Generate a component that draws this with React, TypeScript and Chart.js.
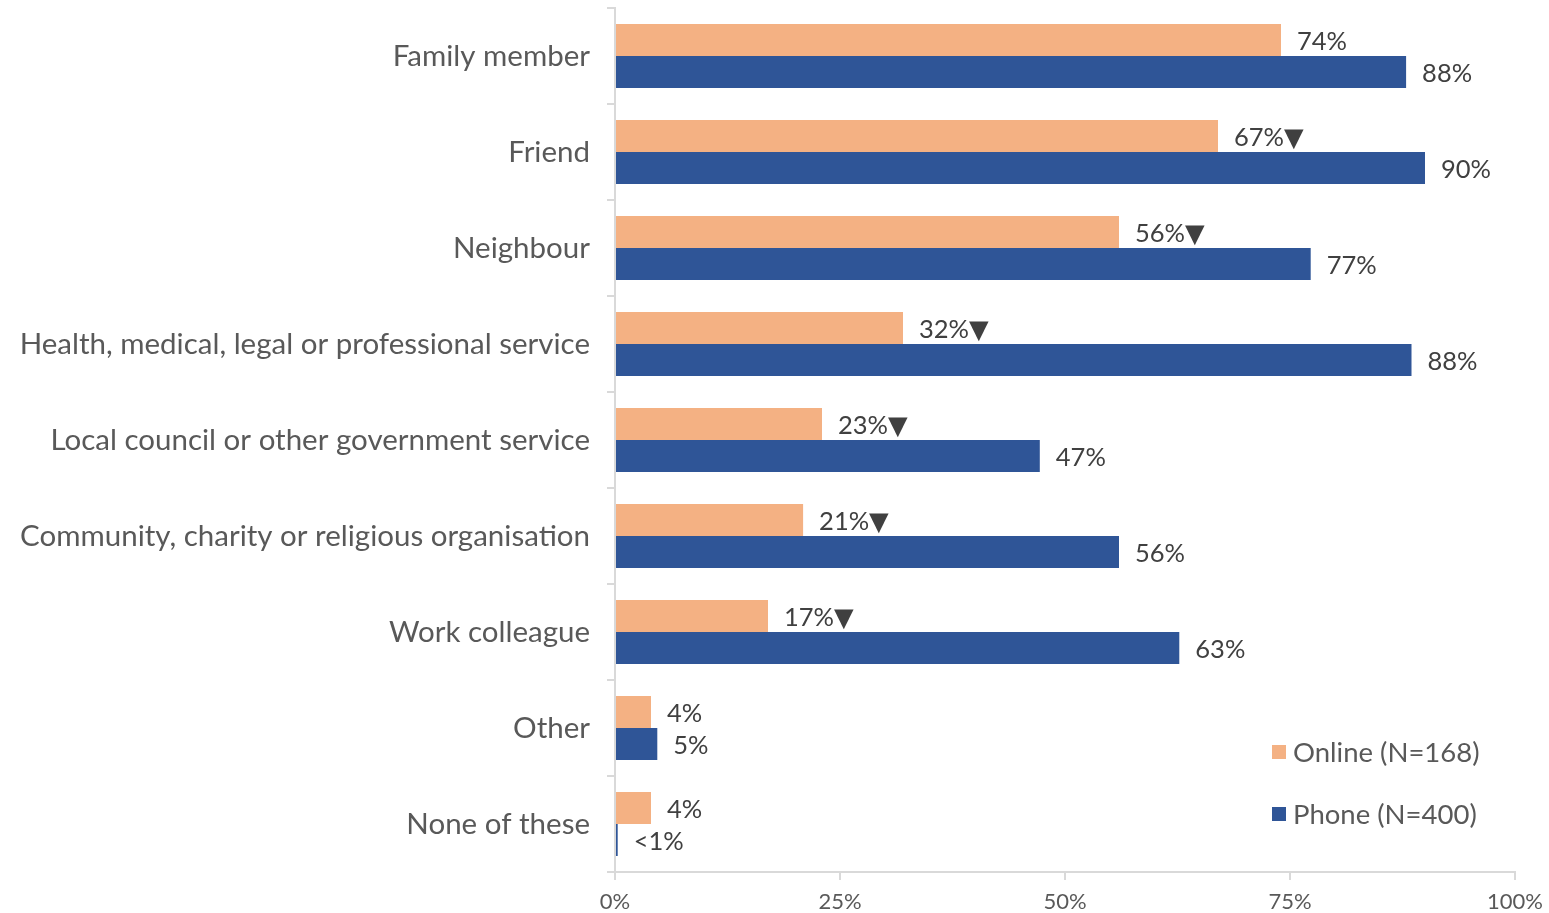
import React, { useEffect, useRef } from "react";
import { Chart, registerables } from "chart.js";

Chart.register(...registerables);

const categories = [
  "Family member",
  "Friend",
  "Neighbour",
  "Health, medical, legal or professional service",
  "Local council or other government service",
  "Community, charity or religious organisation",
  "Work colleague",
  "Other",
  "None of these",
];
const onlineValues = [74, 67, 56, 32, 23, 20.9, 17, 4, 4];
const phoneValues = [87.9, 90, 77.3, 88.5, 47.2, 56, 62.7, 4.7, 0.3];
const onlineLabels = ["74%", "67%▼", "56%▼", "32%▼", "23%▼", "21%▼", "17%▼", "4%", "4%"];
const phoneLabels = ["88%", "90%", "77%", "88%", "47%", "56%", "63%", "5%", "<1%"];
const seriesNames = ["Online (N=168)", "Phone (N=400)"];
const seriesColors = ["#F4B183", "#2F5597"];
const xTicks = [0, 25, 50, 75, 100];

const FONT = "Lato, 'DejaVu Sans', sans-serif";

const labelPlugin = {
  id: "valueLabels",
  afterDatasetsDraw(chart: any) {
    const ctx = chart.ctx;
    const labelSets = [onlineLabels, phoneLabels];
    ctx.save();
    ctx.font = `25.5px ${FONT}`;
    ctx.fillStyle = "#404040";
    ctx.textAlign = "left";
    ctx.textBaseline = "middle";
    chart.data.datasets.forEach((ds: any, di: number) => {
      const meta = chart.getDatasetMeta(di);
      meta.data.forEach((bar: any, i: number) => {
        ctx.fillText(labelSets[di][i], bar.x + 16, bar.y + 2);
      });
    });
    ctx.restore();
  },
};

const legendPlugin = {
  id: "customLegend",
  afterDraw(chart: any) {
    const ctx = chart.ctx;
    ctx.save();
    ctx.font = `27.5px ${FONT}`;
    ctx.textBaseline = "middle";
    ctx.textAlign = "left";
    const ys = [752, 814];
    seriesNames.forEach((name, i) => {
      ctx.fillStyle = seriesColors[i];
      ctx.fillRect(1272, ys[i] - 7, 14, 14);
      ctx.fillStyle = "#595959";
      ctx.fillText(name, 1293, ys[i] + 1);
    });
    ctx.restore();
  },
};

export default function App() {
  const ref = useRef<HTMLCanvasElement>(null);
  useEffect(() => {
    if (!ref.current) return;
    const chart = new Chart(ref.current, {
      type: "bar",
      data: {
        labels: categories,
        datasets: [
          {
            label: seriesNames[0],
            data: onlineValues,
            backgroundColor: seriesColors[0],
            categoryPercentage: 0.667,
            barPercentage: 1,
          },
          {
            label: seriesNames[1],
            data: phoneValues,
            backgroundColor: seriesColors[1],
            categoryPercentage: 0.667,
            barPercentage: 1,
          },
        ],
      },
      options: {
        indexAxis: "y",
        animation: false,
        responsive: false,
        maintainAspectRatio: false,
        layout: { padding: { left: 0, right: 34, top: 8, bottom: 0 } },
        plugins: {
          legend: { display: false },
          tooltip: { enabled: false },
        },
        scales: {
          x: {
            min: 0,
            max: 100,
            afterBuildTicks: (scale: any) => {
              scale.ticks = xTicks.map((v) => ({ value: v }));
            },
            afterFit: (scale: any) => {
              scale.height = 41;
              scale.paddingLeft = 0;
              scale.paddingRight = 0;
            },
            grid: {
              drawOnChartArea: false,
              drawTicks: true,
              tickLength: 8,
              color: "#D9D9D9",
              lineWidth: 2,
            },
            border: { color: "#D9D9D9", width: 2 },
            ticks: {
              color: "#595959",
              font: { family: FONT, size: 22 },
              padding: 9,
              maxRotation: 0,
              callback: (v: any) => `${v}%`,
            },
          },
          y: {
            afterFit: (scale: any) => {
              scale.width = 615;
              scale.paddingTop = 0;
              scale.paddingBottom = 0;
            },
            grid: {
              drawOnChartArea: false,
              drawTicks: true,
              tickLength: 8,
              offset: true,
              color: "#D9D9D9",
              lineWidth: 2,
            },
            border: { color: "#D9D9D9", width: 2 },
            ticks: {
              color: "#595959",
              font: { family: FONT, size: 29.5 },
              padding: 17,
              autoSkip: false,
            },
          },
        },
      },
      plugins: [labelPlugin, legendPlugin],
    });
    return () => chart.destroy();
  }, []);
  return (
    <div style={{ position: "fixed", left: 0, top: 0, width: 1549, height: 913, background: "#fff" }}>
      <canvas ref={ref} width={1549} height={913} style={{ display: "block" }} />
    </div>
  );
}
